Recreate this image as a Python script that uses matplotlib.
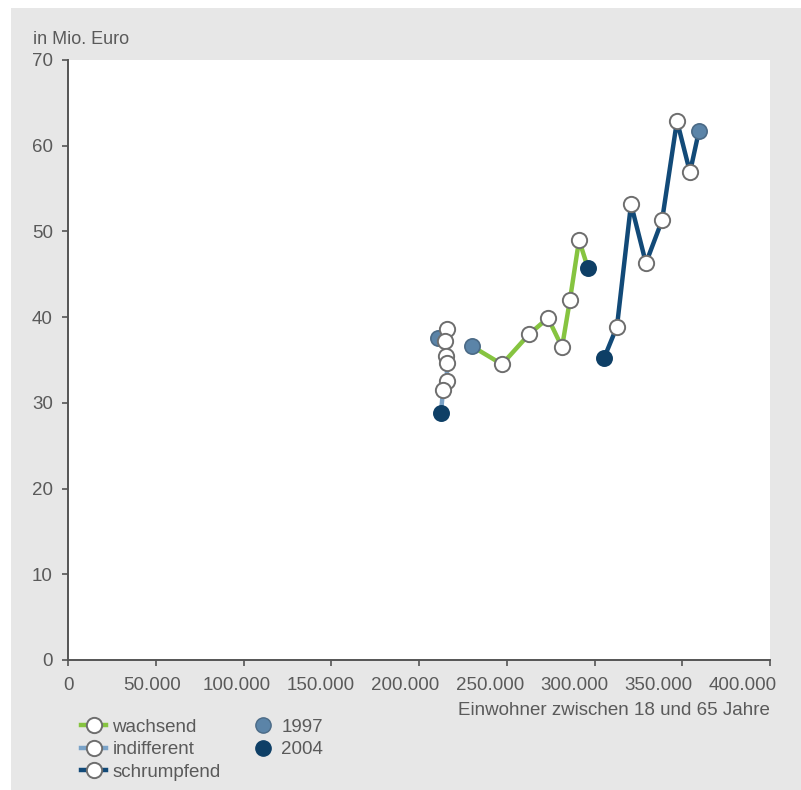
import matplotlib.pyplot as plt
import matplotlib.transforms as mtransforms
from matplotlib.lines import Line2D
from matplotlib.patches import Rectangle
from matplotlib.ticker import FuncFormatter

plt.rcParams['font.family'] = ['Liberation Sans', 'DejaVu Sans']

# data: 1997 ... 2004 (x = Einwohner 18-65, y = Mio. Euro)
years = [1997, 1998, 1999, 2000, 2001, 2002, 2003, 2004]

wachsend_x = [230200, 247300, 262700, 273500, 281500, 286000, 291200, 296300]
wachsend_y = [36.6, 34.5, 38.0, 39.9, 36.5, 42.0, 49.0, 45.7]

indifferent_x = [210800, 216000, 214800, 215200, 215800, 216000, 213700, 212500]
indifferent_y = [37.6, 38.6, 37.2, 35.5, 34.7, 32.6, 31.5, 28.8]

schrumpfend_x = [359500, 354400, 347000, 338500, 329300, 320800, 312800, 305400]
schrumpfend_y = [61.7, 56.9, 62.9, 51.3, 46.3, 53.2, 38.9, 35.2]

series = [
    ('wachsend', wachsend_x, wachsend_y, '#86c440'),
    ('indifferent', indifferent_x, indifferent_y, '#7aa3c8'),
    ('schrumpfend', schrumpfend_x, schrumpfend_y, '#124a78'),
]

c1997 = '#5b84a8'
c2004 = '#0e3f66'
edge = '#6e6e6e'
txt = '#5a5a5a'
fs = 13.5
ms = 11

fig = plt.figure(figsize=(8.01, 7.90), dpi=100)
fig.patch.set_facecolor('white')
fig.patches.append(Rectangle((11 / 801, 0), 1, 782 / 790, transform=fig.transFigure,
                             facecolor='#e7e7e7', edgecolor='none', zorder=-10))

ax = fig.add_axes([68 / 801, 130 / 790, 702 / 801, 600 / 790])
ax.set_facecolor('white')

for name, xs, ys, col in series:
    ax.plot(xs, ys, color=col, lw=3.2, zorder=2, solid_capstyle='round')
    ax.plot(xs[1:-1], ys[1:-1], 'o', ms=ms, mfc='white', mec=edge, mew=1.4, zorder=4)
    ax.plot(xs[0], ys[0], 'o', ms=ms, mfc=c1997, mec='#4b6a86', mew=1.2, zorder=3)
    ax.plot(xs[-1], ys[-1], 'o', ms=ms, mfc=c2004, mec=c2004, mew=1.2, zorder=3)

ax.set_xlim(0, 400000)
ax.set_ylim(0, 70)
ax.set_xticks(range(0, 400001, 50000))
ax.set_yticks(range(0, 71, 10))
ax.xaxis.set_major_formatter(FuncFormatter(lambda v, p: '0' if v == 0 else f'{int(v):,}'.replace(',', '.')))

for s in ['top', 'right']:
    ax.spines[s].set_visible(False)
for s in ['left', 'bottom']:
    ax.spines[s].set_color('#555555')
    ax.spines[s].set_linewidth(1.4)
ax.tick_params(colors='#555555', labelcolor=txt, labelsize=fs, length=4, width=1.2)
ax.tick_params(axis='y', pad=7)
ax.tick_params(axis='x', pad=8)

# x tick labels in the original drift slightly left of their ticks
for i, lbl in enumerate(ax.get_xticklabels()):
    off = mtransforms.ScaledTranslation(-i * 3.4 / 100, 0, fig.dpi_scale_trans)
    lbl.set_transform(lbl.get_transform() + off)

ax.set_xlabel('Einwohner zwischen 18 und 65 Jahre', color=txt, fontsize=fs, loc='right', labelpad=6)
fig.text(33 / 801, 1 - 40 / 790, 'in Mio. Euro', color=txt, fontsize=13, va='center', ha='left')

handles = [Line2D([], [], color=c, lw=3.2, marker='o', ms=ms, mfc='white', mec=edge, mew=1.4)
           for _, _, _, c in series]
handles += [Line2D([], [], ls='none', marker='o', ms=ms, mfc=c1997, mec='#4b6a86'),
            Line2D([], [], ls='none', marker='o', ms=ms, mfc=c2004, mec=c2004)]
labels = [s[0] for s in series] + ['1997', '2004']
leg = fig.legend(handles, labels, ncol=2, loc='upper left', bbox_to_anchor=(72 / 801, 1 - 709 / 790),
                 frameon=False, handlelength=1.3, handletextpad=0.35, labelspacing=0.3,
                 columnspacing=1.6, fontsize=fs, borderpad=0)
for t in leg.get_texts():
    t.set_color(txt)

fig.savefig('out.png', dpi=100)
